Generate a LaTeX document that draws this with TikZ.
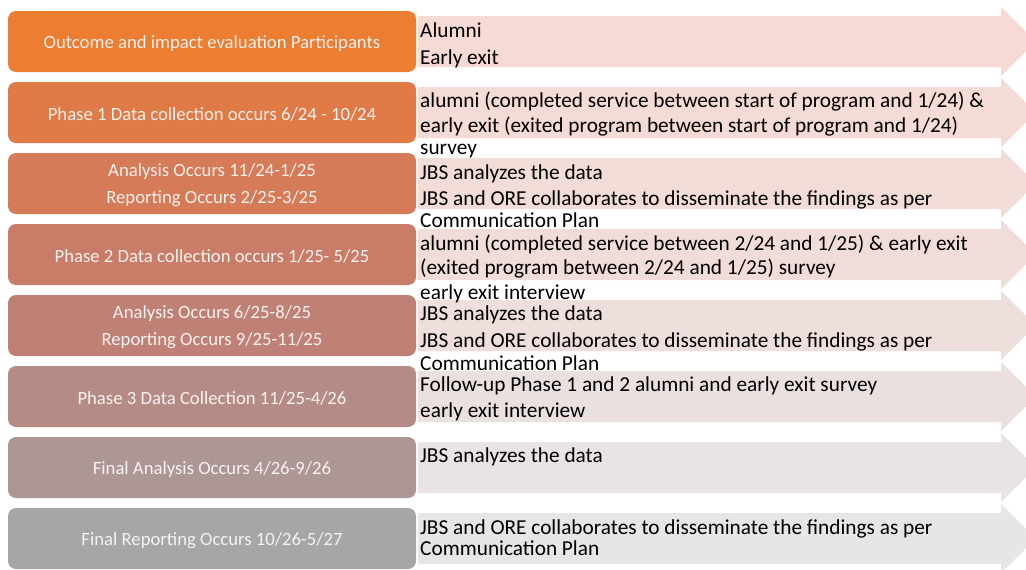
\documentclass[tikz,border=0pt]{standalone}
\usepackage{fontspec}
\setmainfont{Carlito}
\definecolor{b1}{HTML}{ED7D31}
\definecolor{b2}{HTML}{E07B47}
\definecolor{b3}{HTML}{D57B58}
\definecolor{b4}{HTML}{C97C68}
\definecolor{b5}{HTML}{BF8176}
\definecolor{b6}{HTML}{B58B86}
\definecolor{b7}{HTML}{AD9696}
\definecolor{b8}{HTML}{A6A6A6}
\definecolor{a1}{RGB}{247,218,211}
\definecolor{a2}{RGB}{245,219,213}
\definecolor{a3}{RGB}{242,220,215}
\definecolor{a4}{RGB}{240,221,218}
\definecolor{a5}{RGB}{238,223,221}
\definecolor{a6}{RGB}{235,224,224}
\definecolor{a7}{RGB}{233,227,227}
\definecolor{a8}{RGB}{230,230,230}
\definecolor{boxtext}{HTML}{F6F2EF}
\tikzset{
  phasebox/.style={rounded corners=8pt, minimum width=408pt, minimum height=61pt, inner sep=0pt},
  phasetext/.style={inner sep=0pt, align=center, text=boxtext, font=\fontsize{18.7}{27}\selectfont},
  armtext/.style={anchor=base west, inner sep=0pt, text=black, font=\fontsize{21.3}{25}\selectfont},
}
\begin{document}
\begin{tikzpicture}[x=1pt,y=-1pt]
\useasboundingbox (0,0) rectangle (1026,570);
\clip (0,0) rectangle (1026,570);
\fill[white] (0,0) rectangle (1026,570);
% arrows
\foreach \k in {1,...,8}{
  \pgfmathsetmacro{\t}{16+71*(\k-1)}
  \fill[a\k] (418,\t) -- (1001,\t) -- (1001,\t-9) -- (1036,\t+25.5) -- (1001,\t+60) -- (1001,\t+51) -- (418,\t+51) -- cycle;
}
% phase boxes
\node[phasebox, fill=b1] (p1) at (212,41.5) {};
\node[phasebox, fill=b2] (p2) at (212,112.5) {};
\node[phasebox, fill=b3] (p3) at (212,183.5) {};
\node[phasebox, fill=b4] (p4) at (212,254.5) {};
\node[phasebox, fill=b5] (p5) at (212,325.5) {};
\node[phasebox, fill=b6] (p6) at (212,396.5) {};
\node[phasebox, fill=b7] (p7) at (212,467.5) {};
\node[phasebox, fill=b8] (p8) at (212,538.5) {};
\node[phasetext] (l1) at ([yshift=-2pt]p1.center) {Outcome and impact evaluation Participants};
\node[phasetext] (l2) at ([yshift=-2pt]p2.center) {Phase 1 Data collection occurs 6/24 - 10/24};
\node[phasetext] (l3) at ([yshift=-2pt]p3.center) {Analysis Occurs 11/24-1/25\\Reporting Occurs 2/25-3/25};
\node[phasetext] (l4) at ([yshift=-2pt]p4.center) {Phase 2 Data collection occurs 1/25- 5/25};
\node[phasetext] (l5) at ([yshift=-2pt]p5.center) {Analysis Occurs 6/25-8/25\\Reporting Occurs 9/25-11/25};
\node[phasetext] (l6) at ([yshift=-2pt]p6.center) {Phase 3 Data Collection 11/25-4/26};
\node[phasetext] (l7) at ([yshift=-2pt]p7.center) {Final Analysis Occurs 4/26-9/26};
\node[phasetext] (l8) at ([yshift=-2pt]p8.center) {Final Reporting Occurs 10/26-5/27};
% arrow texts
\node[armtext] (t11) at (420,37.5) {Alumni};
\node[armtext] (t12) at (420,64) {Early exit};
\node[armtext] (t21) at (420,107.5) {alumni (completed service between start of program and 1/24) \&};
\node[armtext] (t22) at (420,132.5) {early exit (exited program between start of program and 1/24)};
\node[armtext] (t23) at (420,154) {survey};
\node[armtext] (t31) at (420,179) {JBS analyzes the data};
\node[armtext] (t32) at (420,205.7) {JBS and ORE collaborates to disseminate the findings as per};
\node[armtext] (t33) at (420,227.5) {Communication Plan};
\node[armtext] (t41) at (420,250.3) {alumni (completed service between 2/24 and 1/25) \& early exit};
\node[armtext] (t42) at (420,274.7) {(exited program between 2/24 and 1/25) survey};
\node[armtext] (t43) at (420,299) {early exit interview};
\node[armtext] (t51) at (420,320) {JBS analyzes the data};
\node[armtext] (t52) at (420,347.3) {JBS and ORE collaborates to disseminate the findings as per};
\node[armtext] (t53) at (420,370) {Communication Plan};
\node[armtext] (t61) at (420,391.7) {Follow-up Phase 1 and 2 alumni and early exit survey};
\node[armtext] (t62) at (420,417.3) {early exit interview};
\node[armtext] (t71) at (420,462.3) {JBS analyzes the data};
\node[armtext] (t81) at (420,534) {JBS and ORE collaborates to disseminate the findings as per};
\node[armtext] (t82) at (420,555.7) {Communication Plan};
\end{tikzpicture}
\end{document}
